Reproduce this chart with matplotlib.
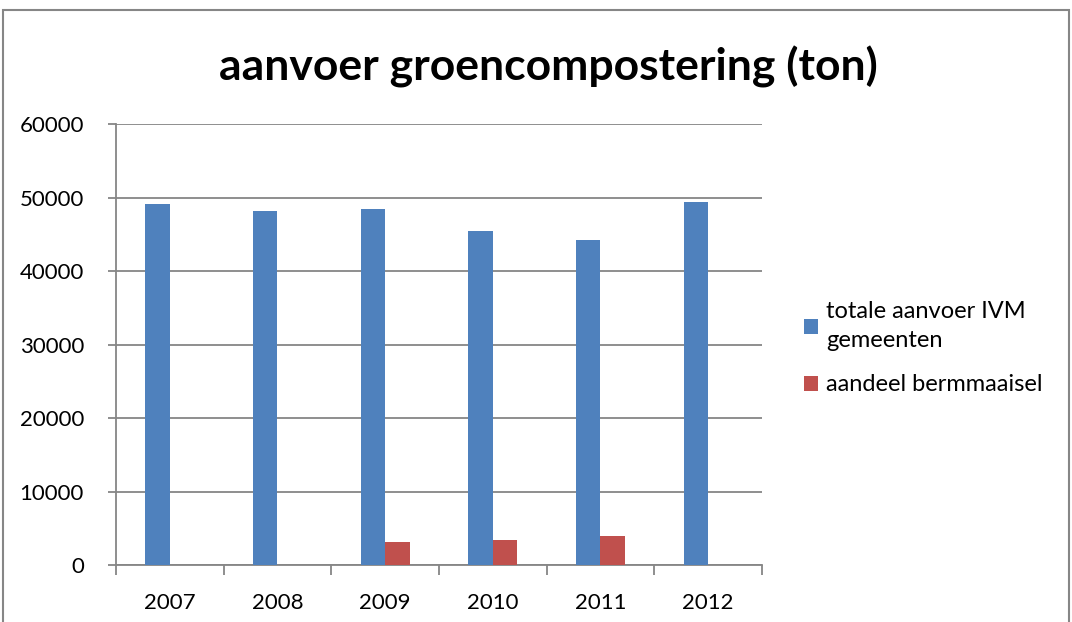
import matplotlib.pyplot as plt
import matplotlib.patches as mpatches
import numpy as np

plt.rcParams['font.family'] = ['Lato', 'DejaVu Sans']

jaren = ['2007', '2008', '2009', '2010', '2011', '2012']
totaal = [49100, 48200, 48500, 45400, 44200, 49400]
berm = [np.nan, np.nan, 3100, 3400, 3900, np.nan]

blauw = '#4F81BD'
rood = '#C0504D'
grijs = '#868686'

fig = plt.figure(figsize=(10.72, 6.22), dpi=100)
fig.patches.append(mpatches.Rectangle((0.003, -0.01), 0.994, 0.994, transform=fig.transFigure,
                                      fill=False, edgecolor=grijs, linewidth=1.5))
ax = fig.add_axes([0.1082, 0.0916, 0.6026, 0.709])

x = np.arange(len(jaren))
w = 0.227
ax.bar(x - w / 2, totaal, w, color=blauw, label='totale aanvoer IVM\ngemeenten', zorder=3)
ax.bar(x + w / 2, berm, w, color=rood, label='aandeel bermmaaisel', zorder=3)

ax.set_ylim(0, 60000)
ax.set_xlim(-0.5, 5.5)
ax.set_yticks(range(0, 60001, 10000))
ax.yaxis.grid(True, color=grijs, linewidth=1.3, zorder=0)
ax.set_xticks(x)
ax.set_xticklabels(jaren)
ax.set_xticks(np.arange(-0.5, 6, 1), minor=True)
ax.tick_params(axis='x', which='major', length=0, labelsize=16, pad=20)
ax.tick_params(axis='x', which='minor', length=7, color=grijs, width=1.3, direction='out')
ax.tick_params(axis='y', length=6, color=grijs, width=1.3, labelsize=16, pad=17)
for s in ['top', 'right']:
    ax.spines[s].set_visible(False)
for s in ['left', 'bottom']:
    ax.spines[s].set_color(grijs)
    ax.spines[s].set_linewidth(1.3)

fig.text(0.512, 0.893, 'aanvoer groencompostering (ton)', ha='center', va='center',
         fontsize=32, fontweight='bold')

leg = fig.legend(loc='center left', bbox_to_anchor=(0.73, 0.44), frameon=False, fontsize=17,
                 handlelength=0.6, handleheight=0.6, handletextpad=0.35, labelspacing=1.0)
for t in leg.get_texts():
    t.set_linespacing(1.45)

fig.savefig('out.png', dpi=100)
